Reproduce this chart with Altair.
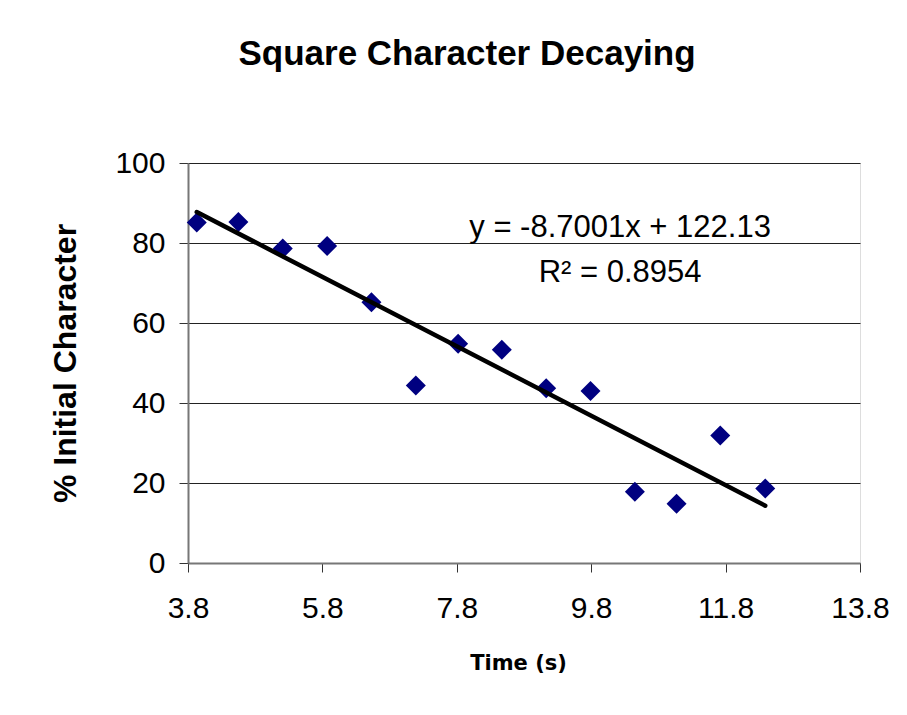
import altair as alt
import pandas as pd

# Data
time_s = [3.93, 4.55, 5.21, 5.87, 6.53, 7.19, 7.82, 8.47, 9.13, 9.79, 10.45, 11.07, 11.72, 12.39]
pct_initial = [85.1, 85.25, 78.6, 79.25, 65.2, 44.4, 54.8, 53.3, 43.7, 43.0, 17.8, 14.8, 31.9, 18.6]

x_ticks = [3.8, 5.8, 7.8, 9.8, 11.8, 13.8]
y_ticks = [0, 20, 40, 60, 80, 100]

ann_text = ["y = -8.7001x + 122.13", "R\u00b2 = 0.8954"]
ann_x = [10.23, 10.23]
ann_y = [81.5, 70.3]

FONT = "Liberation Sans"

df = pd.DataFrame({"time": time_s, "pct": pct_initial})
ann = pd.DataFrame({"label": ann_text, "x": ann_x, "y": ann_y})

xscale = alt.Scale(domain=[3.8, 13.8], nice=False, zero=False)
yscale = alt.Scale(domain=[0, 100], nice=False)

xaxis = alt.Axis(
    values=x_ticks, format=".1f", grid=False, title="Time (s)",
    labelFontSize=30, labelFont=FONT, labelColor="#000", labelPadding=21,
    labelFlush=False, labelOverlap=False,
    tickSize=9, tickColor="#333", tickWidth=1,
    domainColor="#777", domainWidth=2,
    titleFont="DejaVu Sans", titleFontSize=21, titleFontWeight="bold", titleColor="#000",
    titleX=330, titleY=106, titleBaseline="alphabetic", titleAnchor="middle",
)
yaxis = alt.Axis(
    values=y_ticks, grid=True, gridColor="#222", gridWidth=1, title="% Initial Character",
    labelFontSize=30, labelFont=FONT, labelColor="#000", labelPadding=14,
    labelFlush=False, labelOverlap=False,
    tickSize=9, tickColor="#333", tickWidth=1,
    domainColor="#777", domainWidth=2,
    titleFont=FONT, titleFontSize=32, titleFontWeight="bold", titleColor="#000",
    titleX=-106, titleY=200, titleBaseline="bottom", titleAngle=270, titleAnchor="middle",
)

base = alt.Chart(df)

points = base.mark_point(shape="diamond", filled=True, size=400, color="#000080", opacity=1).encode(
    x=alt.X("time:Q", scale=xscale, axis=xaxis),
    y=alt.Y("pct:Q", scale=yscale, axis=yaxis),
)

trend = base.transform_regression("time", "pct").mark_line(
    color="#000", strokeWidth=4.5, strokeCap="round"
).encode(
    x=alt.X("time:Q", scale=xscale),
    y=alt.Y("pct:Q", scale=yscale),
)

labels = alt.Chart(ann).mark_text(
    font=FONT, fontSize=31, color="#000", align="center", baseline="alphabetic"
).encode(
    x=alt.X("x:Q", scale=xscale),
    y=alt.Y("y:Q", scale=yscale),
    text="label:N",
)

chart = alt.layer(points, trend, labels).properties(
    width=672,
    height=400,
    title=alt.TitleParams(
        "Square Character Decaying", font=FONT, fontSize=35, fontWeight="bold",
        color="#000", anchor="middle", frame="group", baseline="alphabetic",
        offset=48, dx=-57,
    ),
    autosize=alt.AutoSizeParams(type="none"),
    padding={"left": 180, "top": 155, "right": 39, "bottom": 144},
).configure_view(
    stroke="#808080", strokeWidth=2
).configure(background="#ffffff")

chart.save("out.html", embed_options={"renderer": "svg", "actions": False})
